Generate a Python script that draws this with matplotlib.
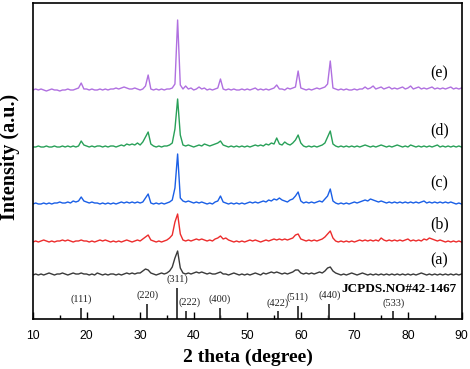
import numpy as np
import matplotlib
matplotlib.use("Agg")
import matplotlib.pyplot as plt
from matplotlib.ticker import MultipleLocator

# 2theta grid 10..90 step 0.5
two_theta = np.arange(161) * 0.5 + 10.0

# intensities (a.u.) above each pattern's own baseline
series_e = [2,3,2,3,2,1,2,3,2,2, 1,2,2,3,2,2,3,4, 9,3,3, 2,3,2,2,3,2,3,2,3,
            3,4,3,4,5,4,3,3,4,3, 2,3, 6,17,3, 2,3,2,3,2,3,3,4, 8,72,7, 3,6,3,
            4,2,3,5,3,4,2,3,2,3,4, 13,3,
            2,3,2,3,2,2,3,2,3,2,3,4,2,3,2,3,2,3,4, 7,3, 3,2,4,3,4, 5,21,4,
            3,2,3,2,3,4,3,4,5, 8,31,4,
            3,2,3,2,3,2,2,3,2,3, 3,5,3,4,6,3,4,5,3,4, 5,3,4,3,4,5,3,4,6,3,
            4,5,3,4,3,4,5,3,4,3, 4,3,4,5,3,4,3,4]
series_d = [2,2,3,2,2,3,2,2,3,2, 2,3,2,3,2,3,2,3, 8,4,3, 2,3,2,3,3,2,3,2,3,
            3,2,3,4,3,5,4,5,4,6, 4,7, 12,17,5, 3,2,3,2,3,3,4,6, 20,50,14, 4,3,4,
            3,2,3,4,3,5,4,3,4,5,6, 8,4,
            3,2,3,2,3,2,3,2,3,2,3,4,3,4,3,5,4,6,5, 11,5, 4,7,5,4,6, 9,14,6,
            3,2,3,2,3,2,3,4,6, 12,18,5,
            3,2,3,2,3,2,3,2,3,2, 3,4,3,2,3,2,3,4,3,2, 3,2,3,4,3,2,3,2,4,3,
            2,3,2,3,2,3,2,3,4,2, 3,2,3,2,3,2,3,2]
series_c = [2,3,2,2,3,2,3,2,3,3, 4,3,3,4,3,5,4,5, 9,5,4, 3,4,3,3,2,3,2,3,2,
            3,2,3,4,3,4,3,4,3,4, 3,4, 8,12,3, 2,3,2,3,2,3,4,6, 18,52,8, 5,4,5,
            4,3,4,3,4,3,2,3,2,4,5, 10,4,
            3,2,3,2,3,2,3,2,3,4,3,4,3,4,5,4,6,5,7, 6,8, 6,5,4,6,7, 10,14,5,
            3,4,3,4,3,4,5,4,7, 10,17,5,
            3,2,3,2,3,2,3,4,3,4, 5,6,5,7,6,5,4,5,4,3, 4,3,4,3,4,3,4,3,4,3,
            4,3,4,5,3,4,3,4,3,4, 3,4,3,4,3,2,3,2]
series_b = [2,3,2,3,4,3,2,3,2,3, 3,4,3,4,3,2,3,3, 4,3,3, 2,3,2,3,4,3,4,3,2,
            3,2,3,2,3,4,3,2,3,4, 3,5, 7,9,4, 3,2,3,2,3,4,6,9, 22,30,10, 4,3,4,
            3,4,5,4,5,4,3,4,3,5,6, 8,5,
            6,4,3,2,3,2,3,2,3,4,3,4,3,2,3,4,3,4,5, 4,5, 4,5,4,5,6, 9,10,5,
            4,3,4,3,4,3,4,5,7, 10,13,6,
            3,2,3,2,3,2,3,2,3,4, 3,4,3,4,3,4,3,6,4,3, 4,3,4,3,4,3,4,5,3,4,
            3,4,3,5,4,6,5,4,3,4, 3,2,3,2,3,2,3,2]
series_a = [2,3,2,3,2,3,4,3,2,3, 3,4,3,2,3,4,3,3, 4,3,3, 2,3,2,4,3,2,3,2,3,
            3,2,3,2,3,4,3,4,3,4, 4,6, 8,7,4, 3,2,3,4,3,4,6,10, 19,26,9, 4,3,4,
            3,4,5,4,5,4,3,4,3,3,4, 5,3,
            3,2,3,4,3,2,3,2,3,2,3,4,3,2,4,3,4,5,4, 5,4, 3,4,3,4,5, 7,7,4,
            3,4,3,4,3,4,5,4,6, 9,10,6,
            4,3,2,3,2,3,4,3,2,3, 4,3,2,3,2,3,2,3,2,3, 2,3,2,3,2,3,2,3,2,3,
            2,3,4,3,2,3,2,3,2,3, 2,3,2,3,2,3,2,3]

series_labels = ["(a)", "(b)", "(c)", "(d)", "(e)"]
series_offsets = [42, 75, 113, 170, 227]
label_heights = [59, 95, 136, 189, 246]
series_colors = ["#3a3a3a", "#ec2c2c", "#1a5fe6", "#28a058", "#b070e0"]

# JCPDS 42-1467 reference lines
ref_pos = [19.0, 31.3, 36.9, 38.5, 44.9, 55.7, 59.4, 65.3, 77.3]
ref_hkl = ["(111)", "(220)", "(311)", "(222)", "(400)", "(422)", "(511)", "(440)", "(533)"]
ref_height = [11.5, 15, 31, 8.5, 11, 8, 13.5, 15, 8]

plt.rcParams['font.family'] = ['Liberation Sans', 'DejaVu Sans']
fig = plt.figure(figsize=(4.70, 3.69), dpi=100)
ax = fig.add_axes([33/470, 50/369, 428.5/470, 316/369])

all_series = [series_a, series_b, series_c, series_d, series_e]
for ys, off, col, lab, ly in zip(all_series, series_offsets, series_colors,
                                  series_labels, label_heights):
    ax.plot(two_theta, np.array(ys) + off, color=col, lw=1.0)
    ax.text(85.9, ly, lab, family='Liberation Serif', fontsize=11.5,
            ha='center', va='center')

ax.vlines(ref_pos, 0, ref_height, color='#333333', lw=1.3)
label_dx = {"(222)": 0.8}
for p, h, hkl in zip(ref_pos, ref_height, ref_hkl):
    ax.text(p + label_dx.get(hkl, 0), h + 3.5, hkl, family='Liberation Serif',
            fontsize=7.5, ha='center', va='bottom', color='#222222')
ax.text(78.4, 30, "JCPDS.NO#42-1467", family='Liberation Serif', fontsize=9.5,
        fontweight='bold', ha='center', va='center')

ax.set_xlim(10, 90)
ax.set_ylim(0, 316)
ax.xaxis.set_major_locator(MultipleLocator(10))
ax.xaxis.set_minor_locator(MultipleLocator(5))
ax.tick_params(axis='x', which='major', direction='in', length=5, width=1.0,
               labelsize=8.8, pad=8, top=False)
ax.tick_params(axis='x', which='minor', direction='in', length=3, width=1.0, top=False)
ax.set_yticks([])
for s in ax.spines.values():
    s.set_linewidth(1.2)

ax.set_xlabel("2 theta (degree)", family='Liberation Serif', fontweight='bold',
              fontsize=14)
ax.xaxis.label.set_va('center')
ax.xaxis.set_label_coords(0.502, (319 - 357) / 316)
ax.set_ylabel("Intensity (a.u.)", family='Liberation Serif', fontweight='bold',
              fontsize=14.5)
ax.yaxis.label.set_va('center')
ax.yaxis.set_label_coords((10 - 33) / 428.5, (319 - 157) / 316)

fig.savefig("out.png", dpi=100)
